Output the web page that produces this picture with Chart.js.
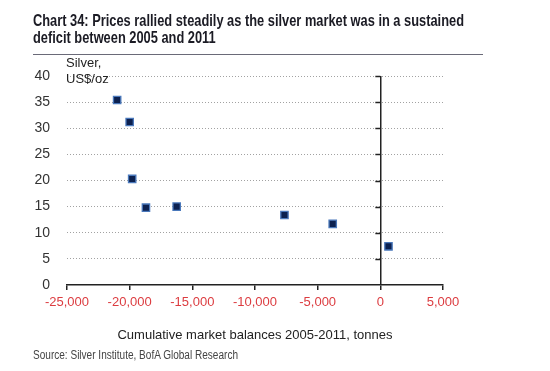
<!DOCTYPE html>
<html>
<head>
<meta charset="UTF-8">
<script src="https://cdn.jsdelivr.net/npm/chart.js@4"></script>
<title>Chart 34 - silver prices vs market balance</title>
<style>
  body { margin: 0; background: #fff; width: 550px; height: 371px; overflow: hidden; position: relative; font-family: "Liberation Sans", Arial, sans-serif; }
  #title { position: absolute; left: 33px; top: 12px; width: 450px; height: 34px; padding-bottom: 8px; border-bottom: 1.5px solid #6a6a78; font: bold 16.5px/17px "Liberation Sans", Arial, sans-serif; color: #1b1b24; }
  .fit { display: inline-block; white-space: nowrap; transform-origin: 0 0; }
  #ytitle { position: absolute; left: 66px; top: 55px; font: 13px/16px "Liberation Sans", Arial, sans-serif; color: #222; }
  #source { position: absolute; left: 33px; top: 348px; font: 12px "Liberation Sans", Arial, sans-serif; color: #444; }
  #chartBox { position: absolute; left: 0; top: 0; width: 550px; height: 371px; }
</style>
</head>
<body>
  <div id="chartBox"><canvas id="silverChart"></canvas></div>
  <div id="title"><span class="fit" id="t1">Chart 34: Prices rallied steadily as the silver market was in a sustained</span><br><span class="fit" id="t2">deficit between 2005 and 2011</span></div>
  <div id="ytitle">Silver,<br>US$/oz</div>
  <div id="source"><span class="fit" id="src">Source: Silver Institute, BofA Global Research</span></div>
  <script>
    // cumulative market balance (tonnes) vs silver price (US$/oz), 2005-2011
    const balances = [-21000, -20000, -19800, -18700, -16250, -7650, -3800, 650];
    const prices = [35.4, 31.2, 20.3, 14.8, 15.0, 13.4, 11.7, 7.4];
    const xTicks = [-25000, -20000, -15000, -10000, -5000, 0, 5000];
    const yTicks = [0, 5, 10, 15, 20, 25, 30, 35, 40];

    // the original uses a condensed face; squeeze the text horizontally
    function squeeze(id, scale) {
      document.getElementById(id).style.transform = 'scaleX(' + scale + ')';
    }
    const t1 = document.getElementById('t1');
    const titleScale = 431 / t1.getBoundingClientRect().width;
    squeeze('t1', titleScale);
    squeeze('t2', titleScale);
    squeeze('src', 205 / document.getElementById('src').getBoundingClientRect().width);

    const points = balances.map((b, i) => ({x: b, y: prices[i]}));

    // short tick marks on the left of the x=0 vertical axis
    const zeroAxisTicks = {
      id: 'zeroAxisTicks',
      beforeDatasetsDraw(chart) {
        const ctx = chart.ctx;
        const xs = chart.scales.x, ys = chart.scales.y;
        const x0 = xs.getPixelForValue(0);
        ctx.save();
        ctx.strokeStyle = '#222';
        ctx.lineWidth = 1.5;
        yTicks.forEach(v => {
          if (v === 0) return;
          const y = Math.round(ys.getPixelForValue(v)) + 0.5;
          ctx.beginPath();
          ctx.moveTo(x0 - 5, y);
          ctx.lineTo(x0, y);
          ctx.stroke();
        });
        ctx.restore();
      }
    };

    const config = {
      type: 'scatter',
      data: {
        datasets: [{
          data: points,
          pointStyle: 'rect',
          pointRadius: 5.2,
          pointHoverRadius: 5.2,
          backgroundColor: '#0c2150',
          borderColor: '#4a78bb',
          borderWidth: 1.3
        }]
      },
      options: {
        responsive: true,
        maintainAspectRatio: false,
        animation: false,
        layout: {padding: {left: 0, right: 107, top: 76, bottom: 0}},
        plugins: {legend: {display: false}, tooltip: {enabled: false}},
        scales: {
          x: {
            type: 'linear',
            min: -25000,
            max: 5000,
            afterFit(scale) { scale.height = 86; },
            afterBuildTicks(scale) { scale.ticks = xTicks.map(v => ({value: v})); },
            border: {display: true, color: '#222', width: 1.5},
            grid: {
              drawOnChartArea: true,
              color: ctx => (ctx.tick && ctx.tick.value === 0) ? '#222' : 'rgba(0,0,0,0)',
              lineWidth: 1.5,
              tickColor: '#222',
              tickLength: 5
            },
            ticks: {
              color: '#dc3c40',
              padding: 5,
              font: {family: '"Liberation Sans", Arial, sans-serif', size: 13},
              callback: v => v.toLocaleString('en-US')
            },
            title: {
              display: true,
              text: 'Cumulative market balances 2005-2011, tonnes',
              color: '#222',
              font: {family: '"Liberation Sans", Arial, sans-serif', size: 13},
              padding: {top: 0, bottom: 28}
            }
          },
          y: {
            type: 'linear',
            min: 0,
            max: 40,
            afterFit(scale) { scale.width = 67; },
            afterBuildTicks(scale) { scale.ticks = yTicks.map(v => ({value: v})); },
            border: {display: false, dash: [1, 2]},
            grid: {
              color: ctx => (ctx.tick && ctx.tick.value === 0) ? 'rgba(0,0,0,0)' : '#a2a2a2',
              lineWidth: 1,
              drawTicks: false
            },
            ticks: {
              color: '#333',
              padding: 17,
              font: {family: '"Liberation Sans", Arial, sans-serif', size: 14}
            }
          }
        }
      },
      plugins: [zeroAxisTicks]
    };

    const silverChart = new Chart(document.getElementById('silverChart'), config);
  </script>
</body>
</html>
